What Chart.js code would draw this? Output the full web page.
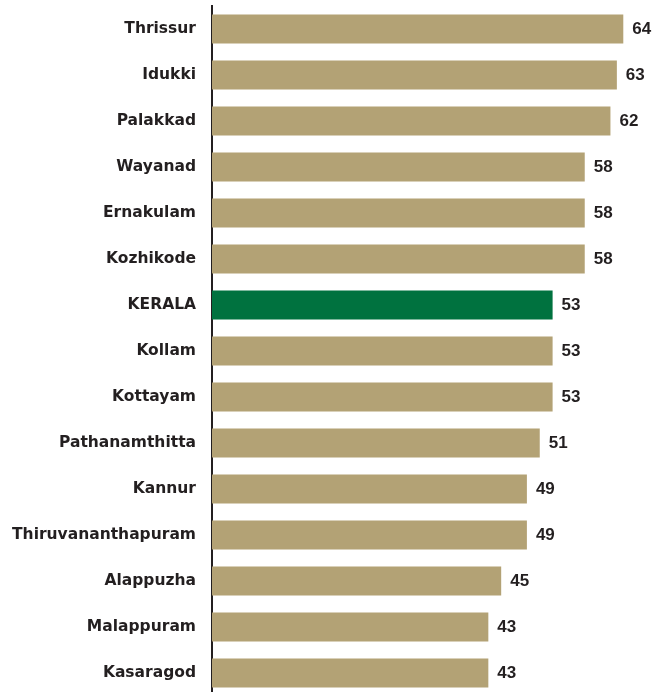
<!DOCTYPE html>
<html>
<head>
<meta charset="utf-8">
<script src="https://cdn.jsdelivr.net/npm/chart.js@4/dist/chart.umd.min.js"></script>
<style>
    html, body { margin: 0; padding: 0; background: #fff; overflow: hidden; }
    #wrap { width: 653px; height: 692px; overflow: hidden; position: relative; }
    #wrap canvas { display: block; }
</style>
</head>
<body>
<div id="wrap"><canvas id="districtChart" width="653" height="696" style="width:653px;height:696px"></canvas></div>
<script>
// -----------------------------
// Data
// -----------------------------
const districts = [
    'Thrissur', 'Idukki', 'Palakkad', 'Wayanad', 'Ernakulam', 'Kozhikode',
    'KERALA', 'Kollam', 'Kottayam', 'Pathanamthitta', 'Kannur',
    'Thiruvananthapuram', 'Alappuzha', 'Malappuram', 'Kasaragod'
];
const values = [64, 63, 62, 58, 58, 58, 53, 53, 53, 51, 49, 49, 45, 43, 43];
const stateLabel = 'KERALA';

// -----------------------------
// Colours
// -----------------------------
const districtColor = '#b3a275';
const stateColor = '#00723f';
const inkColor = '#231f20';

const barColors = districts.map(d => d === stateLabel ? stateColor : districtColor);

// -----------------------------
// Value labels at bar ends
// -----------------------------
const valueLabels = {
    id: 'valueLabels',
    afterDatasetsDraw(chart) {
        const ctx = chart.ctx;
        const meta = chart.getDatasetMeta(0);
        ctx.save();
        ctx.font = 'bold 17px "Liberation Sans", Arial, sans-serif';
        ctx.fillStyle = inkColor;
        ctx.textAlign = 'left';
        ctx.textBaseline = 'middle';
        meta.data.forEach((bar, i) => {
            ctx.fillText(String(values[i]), bar.x + 9, bar.y + 0.5);
        });
        ctx.restore();
    }
};

new Chart(document.getElementById('districtChart').getContext('2d'), {
    type: 'bar',
    data: {
        labels: districts,
        datasets: [{
            data: values,
            backgroundColor: barColors,
            borderWidth: 0,
            categoryPercentage: 1,
            barPercentage: 0.63
        }]
    },
    options: {
        indexAxis: 'y',
        responsive: false,
        animation: false,
        devicePixelRatio: 1,
        layout: { padding: { top: 6, right: 4, bottom: 0, left: 0 } },
        plugins: {
            legend: { display: false },
            tooltip: { enabled: false }
        },
        scales: {
            x: {
                display: false,
                min: 0,
                max: 68
            },
            y: {
                z: 1,
                grid: { display: false },
                border: { display: true, color: inkColor, width: 2 },
                ticks: {
                    padding: 8,
                    color: inkColor,
                    font: { family: '"DejaVu Sans", sans-serif', size: 15.5, weight: 'bold' }
                },
                afterFit(scale) {
                    // fixed label column, no extra room above/below the bars
                    scale.width = 212;
                    scale.paddingTop = 0;
                    scale.paddingBottom = 0;
                }
            }
        }
    },
    plugins: [valueLabels]
});
</script>
</body>
</html>
